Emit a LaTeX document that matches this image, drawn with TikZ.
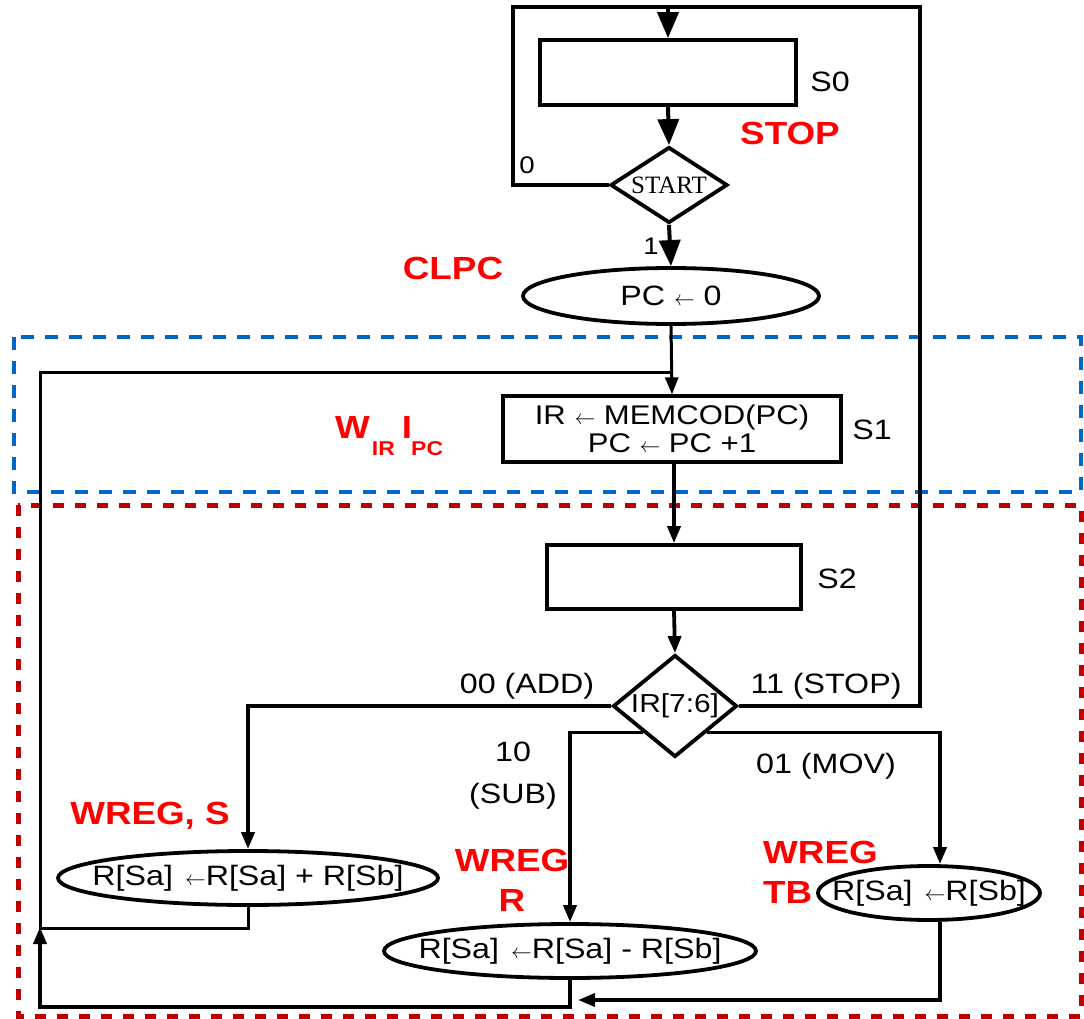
\documentclass[tikz,border=0pt]{standalone}
\usepackage{fontspec}
\setmainfont[FakeStretch=1.15]{Liberation Sans}
\newfontfamily\serifont{Liberation Serif}
\usetikzlibrary{shapes.geometric,arrows.meta}
\newcommand{\myarr}{{\fontsize{21}{21}\selectfont$\leftarrow$}}
\definecolor{dblue}{RGB}{0,102,204}
\definecolor{dred}{RGB}{192,0,0}
\begin{document}
\begin{tikzpicture}[x=1pt,y=-1pt,
  txt/.style={font=\fontsize{28}{30}\selectfont, inner sep=0pt},
  red lbl/.style={font=\fontsize{32}{40}\selectfont\bfseries, text=red, inner sep=0pt},
  box/.style={draw, line width=3.8pt, rectangle, inner sep=0pt},
  oval/.style={draw, line width=3.8pt, ellipse, inner sep=0pt, font=\fontsize{28}{30}\selectfont},
  dia/.style={draw, line width=3.8pt, diamond, inner sep=0pt},
  conn/.style={line width=3.8pt},
  arr/.style={line width=3.8pt, -{Triangle[length=17pt,width=13pt]}},
  bigarr/.style={line width=4pt, -{Triangle[length=26pt,width=21pt]}},
]
\useasboundingbox (0,0) rectangle (1084,1019);
% dashed regions
\draw[dblue, line width=4pt, dash pattern=on 13pt off 11pt] (14,337) rectangle (1081,492);
\draw[dred, line width=5pt, dash pattern=on 11pt off 11pt] (18,505) rectangle (1081,1016);

% nodes
\node[box, minimum width=256pt, minimum height=65pt] (s0) at (668,72.5) {};
\node[dia, minimum width=117pt, minimum height=76pt, font=\serifont\fontsize{25}{25}\selectfont] (start) at (669,185) {\makebox[0pt]{START}};
\node[oval, minimum width=296pt, minimum height=56pt] (clpc) at (671,296) {\makebox[0pt]{PC \myarr{} 0}};
\node[box, line width=3.2pt, minimum width=338pt, minimum height=66pt, align=center, font=\fontsize{27}{28}\selectfont] (s1) at (672,429) {IR \myarr{} MEMCOD(PC)\\PC \myarr{} PC +1};
\node[box, minimum width=254pt, minimum height=64pt] (s2) at (674,577) {};
\node[dia, minimum width=124pt, minimum height=102pt, font=\fontsize{26}{26}\selectfont] (ir) at (675,706) {\makebox[0pt]{IR[7:6]}};
\node[oval, minimum width=380pt, minimum height=54pt] (add) at (248,878) {\makebox[0pt]{R[Sa]\hspace{12pt}\myarr R[Sa] + R[Sb]}};
\node[oval, minimum width=372pt, minimum height=54pt] (sub) at (570,951) {\makebox[0pt]{R[Sa]\hspace{12pt}\myarr R[Sa] - R[Sb]}};
\node[oval, minimum width=222pt, minimum height=54pt] (mov) at (929,893) {\makebox[0pt]{R[Sa]\hspace{12pt}\myarr R[Sb]}};

% labels
\node[txt] (lS0) at (830,82) {S0};
\node[txt] (lS1) at (872,430) {S1};
\node[txt] (lS2) at (837,579) {S2};
\node[red lbl] (lstop) at (790,133) {STOP};
\node[red lbl] (lclpc) at (453,268) {CLPC};
\node[txt, font=\fontsize{24}{24}\selectfont] (l0) at (527,165) {0};
\node[txt, font=\fontsize{24}{24}\selectfont] (l1) at (651,246) {1};
\node[red lbl, anchor=base west] (lwir) at (335,438) {W\hspace{2pt}\raisebox{-17pt}{\fontsize{20}{20}\selectfont IR}\hspace{7pt}I\hspace{-1pt}\raisebox{-17pt}{\fontsize{20}{20}\selectfont PC}};
\node[txt] (ladd) at (527,686) {00 (ADD)};
\node[txt] (lstp) at (826,686) {11 (STOP)};
\node[txt, align=center, font=\fontsize{28}{42}\selectfont] (lsub) at (513,776) {10\\(SUB)};
\node[txt] (lmov) at (826,766) {01 (MOV)};
\node[red lbl] (lws) at (150,816) {WREG, S};
\node[red lbl, align=center] (lwr) at (512,880) {WREG\\R};
\node[red lbl, align=left, anchor=west] (lwt) at (763,872) {WREG\\TB};

% connectors
\coordinate (topL) at (513,7);
\coordinate (topR) at (920,7);
\draw[conn, line width=4pt] (start.west) -| (topL) -- (topR) |- (ir.east);
\draw[bigarr] (s0.north |- topL) -- (s0.north);
\draw[bigarr] (s0.south) -- (start.north);
\draw[bigarr] (start.south) -- (clpc.north);
\draw[arr, line width=3pt] (clpc.south) -- (s1.north);
\coordinate (loopTop) at (40,372);
\draw[conn, line width=3pt] (add.south) -- ++(0,22) -| (loopTop) -- (s1.north |- loopTop);
\draw[arr] (s1.south -| s2.north) -- (s2.north);
\draw[arr] (s2.south) -- (ir.north);
\draw[arr] (ir.west) -| (add.north);
\draw[arr] (ir.south west) -| (sub.north);
\draw[arr] (ir.south east) -| ([xshift=11pt]mov.north);
\coordinate (retA) at (40,927);
\draw[arr] (sub.south) -- ++(0,27) -| (retA);
\coordinate (retB) at (578,1000);
\draw[arr] ([xshift=11pt]mov.south) |- (retB);
\end{tikzpicture}
\end{document}
